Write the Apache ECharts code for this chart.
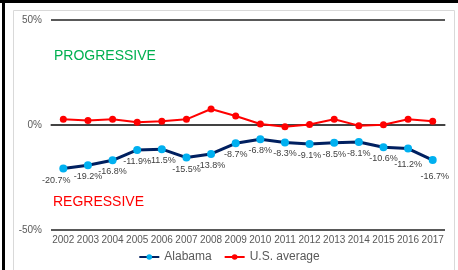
<!DOCTYPE html>
<html>
<head>
<meta charset="utf-8">
<script src="https://cdn.jsdelivr.net/npm/echarts@6/dist/echarts.min.js"></script>
<style>html,body{margin:0;padding:0;background:#fff}#c{width:458px;height:270px}</style>
</head>
<body>
<div id="c"></div>
<script>
var years = ['2002','2003','2004','2005','2006','2007','2008','2009','2010','2011','2012','2013','2014','2015','2016','2017'];
var alabama = [-20.7,-19.2,-16.8,-11.9,-11.5,-15.5,-13.8,-8.7,-6.8,-8.3,-9.1,-8.5,-8.1,-10.6,-11.2,-16.7];
var usAverage = [2.7,2.2,2.7,1.3,1.8,2.7,7.6,4.3,0.5,-0.8,0.2,2.7,-0.3,0.1,2.7,1.8];
var yTicks = [-50, 0, 50];

var chart = echarts.init(document.getElementById('c'), null, {renderer:'canvas'});
var font = 'Liberation Sans, Arial, sans-serif';
chart.setOption({
  animation:false,
  textStyle:{fontFamily:font},
  grid:{left:51,right:13,top:20,bottom:40},
  graphic:[
    {type:'rect',shape:{x:13.5,y:10.5,width:441,height:270},style:{fill:'none',stroke:'#d9d9d9',lineWidth:1},silent:true,z:-1},
    {type:'rect',shape:{x:0,y:0,width:458,height:3},style:{fill:'#000'},silent:true},
    {type:'rect',shape:{x:2,y:0,width:3,height:270},style:{fill:'#000'},silent:true},
    {type:'text',left:54,top:49,style:{text:'PROGRESSIVE',fill:'#00b050',font:'14px '+font}},
    {type:'text',left:53,top:195,style:{text:'REGRESSIVE',fill:'#ff0000',font:'14px '+font}}
  ],
  legend:{
    bottom:2,left:'center',itemWidth:20,itemHeight:7,itemGap:12,
    textStyle:{color:'#595959',fontSize:12,fontFamily:font},
    data:['Alabama','U.S. average']
  },
  xAxis:{
    type:'category',data:years,boundaryGap:true,
    axisLine:{lineStyle:{color:'#595959',width:1.5}},
    axisTick:{show:false},
    axisLabel:{color:'#595959',fontSize:10,margin:5,interval:0,fontFamily:font}
  },
  yAxis:{
    type:'value',min:yTicks[0],max:yTicks[2],interval:50,
    axisLine:{show:false},axisTick:{show:false},
    axisLabel:{color:'#595959',fontSize:10,margin:9,formatter:'{value}%',fontFamily:font},
    splitLine:{lineStyle:{color:['#595959','#000000','#595959'],width:2}}
  },
  series:[
    {
      name:'Alabama',type:'line',data:alabama.map(function(v,i){
        var o={value:v};
        if(i===0){o.label={offset:[-7,1]};}
        if(i===14){o.label={offset:[0,4]};}
        if(i===15){o.label={offset:[2,5]};}
        return o;
      }),
      symbol:'circle',symbolSize:8,
      lineStyle:{color:'#002060',width:3},
      itemStyle:{color:'#00b0f0'},
      label:{show:true,position:'bottom',distance:3,formatter:function(p){return p.value.toFixed(1)+'%';},color:'#404040',fontSize:9,fontFamily:font},
      z:3
    },
    {
      name:'U.S. average',type:'line',data:usAverage,
      symbol:'circle',symbolSize:7,
      lineStyle:{color:'#ff0000',width:2},
      itemStyle:{color:'#ff0000'},
      z:3
    }
  ]
});
</script>
</body>
</html>
